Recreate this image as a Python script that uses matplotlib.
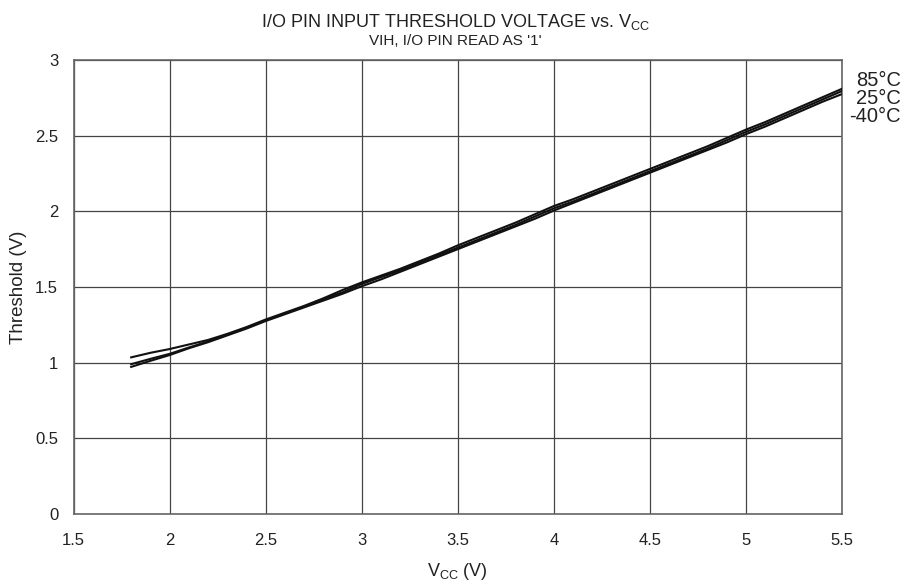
import matplotlib
matplotlib.use("Agg")
import matplotlib.pyplot as plt

plt.rcParams["font.family"] = ["Liberation Sans", "DejaVu Sans"]

# ------------------------------------------------------------------
# Data
# ------------------------------------------------------------------
vcc = [1.8, 1.9, 2.0, 2.1, 2.2, 2.3, 2.4, 2.5, 2.6, 2.7, 2.8, 2.9, 3.0,
       3.1, 3.2, 3.3, 3.4, 3.5, 3.6, 3.7, 3.8, 3.9, 4.0, 4.1, 4.2, 4.3,
       4.4, 4.5, 4.6, 4.7, 4.8, 4.9, 5.0, 5.1, 5.2, 5.3, 5.4, 5.5]

th_85 = [1.035, 1.065, 1.09, 1.12, 1.15, 1.19, 1.235, 1.285, 1.33, 1.375,
         1.425, 1.48, 1.53, 1.575, 1.62, 1.67, 1.72, 1.775, 1.825, 1.875,
         1.925, 1.98, 2.035, 2.08, 2.13, 2.18, 2.23, 2.28, 2.33, 2.38,
         2.43, 2.485, 2.54, 2.59, 2.645, 2.70, 2.755, 2.81]

th_25 = [0.99, 1.025, 1.058, 1.10, 1.14, 1.185, 1.23, 1.28, 1.325, 1.37,
         1.42, 1.465, 1.52, 1.565, 1.61, 1.66, 1.71, 1.76, 1.81, 1.86,
         1.91, 1.965, 2.02, 2.065, 2.115, 2.165, 2.215, 2.265, 2.315, 2.365,
         2.415, 2.47, 2.525, 2.575, 2.63, 2.685, 2.74, 2.795]

th_m40 = [0.972, 1.012, 1.05, 1.095, 1.135, 1.18, 1.225, 1.275, 1.32, 1.365,
          1.41, 1.455, 1.505, 1.55, 1.60, 1.65, 1.70, 1.75, 1.80, 1.85,
          1.90, 1.95, 2.005, 2.055, 2.105, 2.155, 2.205, 2.255, 2.305, 2.355,
          2.405, 2.455, 2.51, 2.56, 2.615, 2.67, 2.725, 2.775]

labels = ["85°C", "25°C", "-40°C"]
xticks = [1.5, 2, 2.5, 3, 3.5, 4, 4.5, 5, 5.5]
yticks = [0, 0.5, 1, 1.5, 2, 2.5, 3]

TXT = "#222222"

# ------------------------------------------------------------------
# Figure
# ------------------------------------------------------------------
fig = plt.figure(figsize=(9.11, 5.86), dpi=100)
ax = fig.add_axes([0.0807, 0.1229, 0.8436, 0.7747])

for series in (th_85, th_25, th_m40):
    ax.plot(vcc, series, color="#111111", lw=1.5, zorder=3)

ax.set_xlim(1.5, 5.5)
ax.set_ylim(0, 3)
ax.set_xticks(xticks)
ax.set_yticks(yticks)
ax.set_xticklabels([f"{t:g}" for t in xticks])
ax.set_yticklabels([f"{t:g}" for t in yticks])
ax.tick_params(length=0, labelsize=12, colors=TXT)
ax.tick_params(axis="x", pad=14)
ax.tick_params(axis="y", pad=11)
ax.grid(True, color="#444444", lw=0.9)
for sp in ax.spines.values():
    sp.set_color("#666666")
    sp.set_linewidth(1.2)

ax.set_xlabel("V$_{\\mathregular{CC}}$ (V)", fontsize=13, color=TXT, labelpad=9)
ax.set_ylabel("Threshold (V)", fontsize=13.5, color=TXT, va="center")
ax.yaxis.set_label_coords(-0.072, 0.5)

fig.text(0.5, 0.963, "I/O PIN INPUT THRESHOLD VOLTAGE vs. V$_{\\mathregular{CC}}$",
         ha="center", va="center", fontsize=13, color=TXT)
fig.text(0.5, 0.930, "VIH, I/O PIN READ AS '1'", ha="center", va="center",
         fontsize=11, color=TXT)

# curve labels on the right
for i, lab in enumerate(labels):
    fig.text(0.989, 0.863 - i * 0.031, lab, ha="right", va="center",
             fontsize=14.5, color=TXT)

fig.savefig("out.png", dpi=100)
